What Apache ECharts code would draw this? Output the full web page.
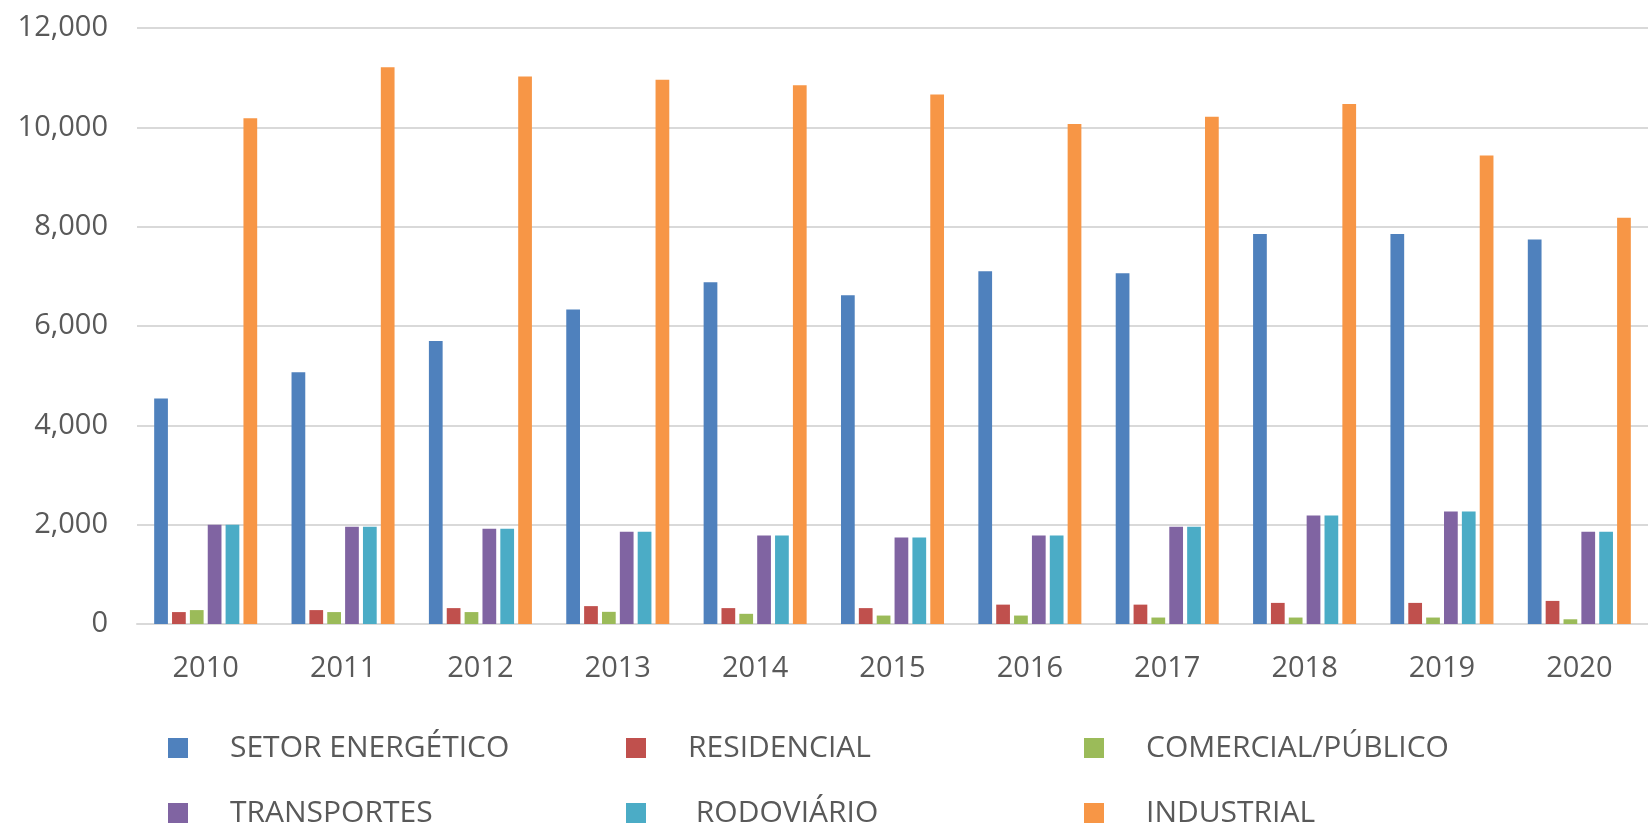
<!DOCTYPE html>
<html>
<head>
<meta charset="utf-8">
<script src="https://cdn.jsdelivr.net/npm/echarts@6/dist/echarts.min.js"></script>
<style>
  html, body { margin: 0; padding: 0; background: #fff; }
  #chart { width: 1648px; height: 825px; }
</style>
</head>
<body>
<div id="chart"></div>
<script>
// anos
const years = ['2010', '2011', '2012', '2013', '2014', '2015', '2016', '2017', '2018', '2019', '2020'];
// valores por setor
const setorEnergetico = [4540, 5070, 5700, 6330, 6880, 6620, 7100, 7060, 7850, 7850, 7740];
const residencial = [240, 280, 320, 360, 320, 320, 390, 390, 425, 425, 465];
const comercialPublico = [280, 240, 240, 245, 205, 170, 170, 130, 130, 130, 95];
const transportes = [2000, 1960, 1920, 1855, 1780, 1740, 1780, 1960, 2185, 2265, 1855];
const rodoviario = [2000, 1960, 1920, 1855, 1780, 1740, 1780, 1960, 2185, 2265, 1855];
const industrial = [10185, 11210, 11025, 10960, 10845, 10660, 10065, 10215, 10470, 9435, 8180];
const yTicks = { min: 0, max: 12000, interval: 2000 };

const grey = '#595959';
const fontFamily = '"Open Sans", sans-serif';

const chart = echarts.init(document.getElementById('chart'));

function bar(name, data, color) {
  return {
    name: name,
    type: 'bar',
    data: data,
    barGap: '30%',
    barCategoryGap: '25%',
    itemStyle: { color: color }
  };
}

// uma legenda por item, em 2 linhas x 3 colunas
function legendItem(name, left, top) {
  return {
    data: [name],
    left: left,
    top: top,
    padding: 0,
    itemWidth: 20,
    itemHeight: 20,
    icon: 'rect',
    selectedMode: false,
    textStyle: {
      color: grey,
      fontSize: 30,
      lineHeight: 30,
      fontFamily: fontFamily,
      padding: [0, 0, 0, 37]
    }
  };
}

const option = {
  animation: false,
  grid: { left: 137, right: -15, top: 28, bottom: 201, containLabel: false },
  xAxis: {
    type: 'category',
    data: years,
    axisTick: { show: false },
    axisLine: { lineStyle: { color: '#d9d9d9', width: 2 } },
    axisLabel: { color: grey, fontSize: 29, fontFamily: fontFamily, margin: 30 }
  },
  yAxis: {
    type: 'value',
    min: yTicks.min,
    max: yTicks.max,
    interval: yTicks.interval,
    axisLine: { show: false },
    axisTick: { show: false },
    splitLine: { lineStyle: { color: '#d9d9d9', width: 2 } },
    axisLabel: {
      color: grey,
      fontSize: 29,
      fontFamily: fontFamily,
      margin: 29,
      formatter: function (v) { return v.toLocaleString('en-US'); }
    }
  },
  legend: [
    legendItem('SETOR ENERGÉTICO', 168, 733),
    legendItem('RESIDENCIAL', 626, 733),
    legendItem('COMERCIAL/PÚBLICO', 1084, 733),
    legendItem('TRANSPORTES', 168, 798),
    legendItem(' RODOVIÁRIO', 626, 798),
    legendItem('INDUSTRIAL', 1084, 798)
  ],
  series: [
    bar('SETOR ENERGÉTICO', setorEnergetico, '#4f81bd'),
    bar('RESIDENCIAL', residencial, '#c0504d'),
    bar('COMERCIAL/PÚBLICO', comercialPublico, '#9bbb59'),
    bar('TRANSPORTES', transportes, '#8064a2'),
    bar(' RODOVIÁRIO', rodoviario, '#4bacc6'),
    bar('INDUSTRIAL', industrial, '#f79646')
  ]
};

chart.setOption(option);
window.addEventListener('resize', () => chart.resize());
</script>
</body>
</html>
